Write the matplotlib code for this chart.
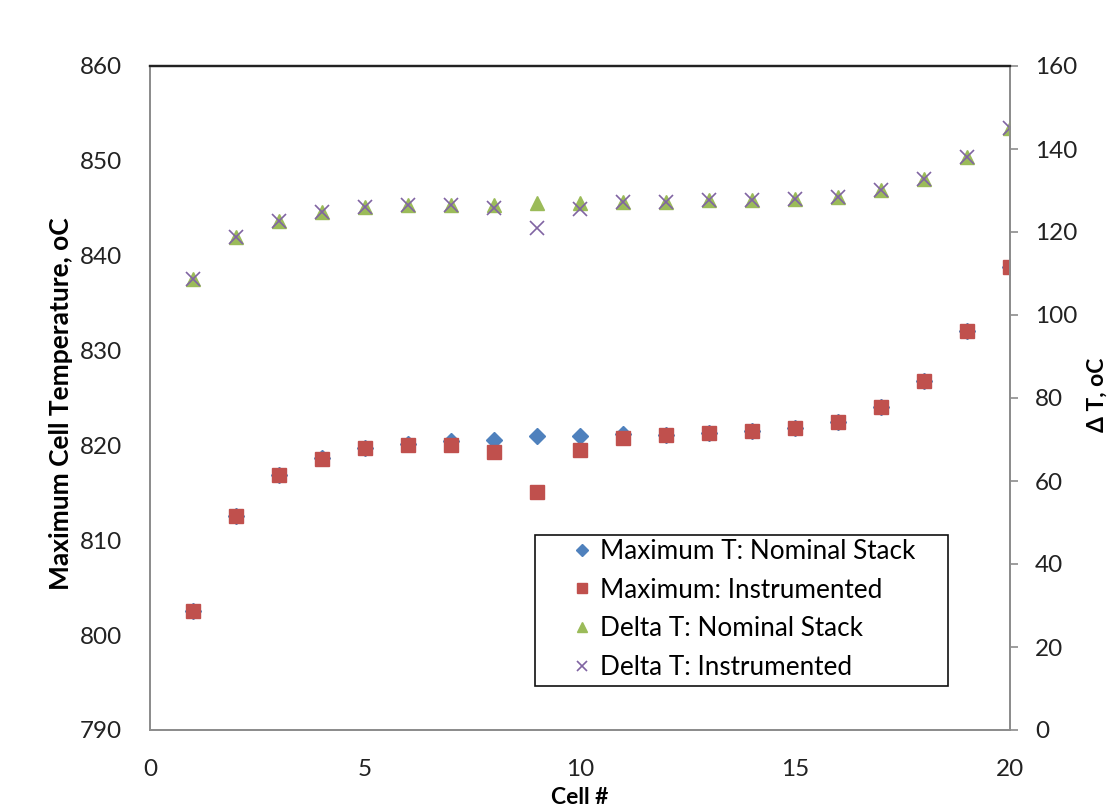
import matplotlib
matplotlib.use("Agg")
import matplotlib.pyplot as plt
from matplotlib.patches import Rectangle

cells = list(range(1, 21))
max_nominal = [802.5, 812.6, 816.9, 818.7, 819.7, 820.1, 820.5, 820.6, 821.0, 821.0,
               821.2, 821.1, 821.3, 821.5, 821.8, 822.5, 824.0, 826.8, 832.1, 838.8]
max_instr = [802.5, 812.6, 816.9, 818.6, 819.7, 820.0, 820.0, 819.3, 815.1, 819.5,
             820.8, 821.1, 821.3, 821.5, 821.8, 822.5, 824.0, 826.8, 832.1, 838.8]
delta_nominal = [108.6, 118.7, 122.7, 124.7, 126.1, 126.4, 126.5, 126.5, 127.1, 126.9,
                 127.3, 127.3, 127.6, 127.6, 128.0, 128.5, 130.1, 132.8, 138.1, 145.0]
delta_instr = [108.6, 118.7, 122.7, 124.7, 126.1, 126.4, 126.5, 125.7, 121.0, 125.5,
               127.3, 127.3, 127.6, 127.6, 128.0, 128.5, 130.1, 132.8, 138.1, 145.0]

FONT = ["Lato", "DejaVu Sans"]
plt.rcParams["font.family"] = FONT

W, H = 1114, 810
fig = plt.figure(figsize=(W/100, H/100), dpi=100)
L, R, T, B = 150, 1010, 66, 730
ax = fig.add_axes([L/W, 1-B/H, (R-L)/W, (B-T)/H])
ax2 = ax.twinx()

h1, = ax.plot(cells, max_nominal, linestyle="none", marker="D", markersize=8.5,
              color="#4F81BD", label="Maximum T: Nominal Stack")
h2, = ax.plot(cells, max_instr, linestyle="none", marker="s", markersize=10,
              color="#C0504D", label="Maximum: Instrumented")
h3, = ax2.plot(cells, delta_nominal, linestyle="none", marker="^", markersize=10,
               color="#9BBB59", label="Delta T: Nominal Stack")
h4, = ax2.plot(cells, delta_instr, linestyle="none", marker="x", markersize=10,
               markeredgewidth=1.2, color="#8064A2", label="Delta T: Instrumented")

ax.set_xlim(0, 20)
ax.set_ylim(790, 860)
ax2.set_ylim(0, 160)
ax.set_xticks([0, 5, 10, 15, 20])
ax.set_yticks(range(790, 861, 10))
ax2.set_yticks(range(0, 161, 20))

for a in (ax, ax2):
    for s in a.spines.values():
        s.set_color("#8C8C8C")
        s.set_linewidth(1.3)
    a.spines["top"].set_color("#222222")
    a.spines["top"].set_linewidth(1.6)

TS = 17.5
ax.tick_params(axis="both", labelsize=TS, colors="#8C8C8C", labelcolor="#222222")
ax.tick_params(axis="y", length=0, pad=20)
ax.tick_params(axis="x", length=0, pad=21)
ax2.tick_params(axis="y", labelsize=TS, colors="#8C8C8C", labelcolor="#222222",
                direction="out", length=6, width=1.2, pad=12)

ax.set_ylabel("Maximum Cell Temperature, oC", fontsize=19, fontweight="bold")
ax.yaxis.set_label_coords((73-L)/(R-L), (B-404)/(B-T))
ax2.set_ylabel("Δ T, oC", fontsize=16.5, fontweight="bold")
ax2.yaxis.set_label_coords((1087-L)/(R-L), (B-395)/(B-T))
ax.set_xlabel("Cell #", fontsize=16.5, fontweight="bold")
ax.xaxis.set_label_coords(0.5, (B-787)/(B-T))

# legend frame (pixel box from reference layout), legend content placed inside
lx0, ly0, lx1, ly1 = 535, 535, 948, 686
ax2.add_patch(Rectangle(((lx0-L)/(R-L), (B-ly1)/(B-T)), (lx1-lx0)/(R-L),
                        (ly1-ly0)/(B-T), transform=ax2.transAxes, facecolor="white",
                        edgecolor="#111111", linewidth=1.2, zorder=5))
leg = ax2.legend(handles=[h1, h2, h3, h4], loc="upper left",
                 bbox_to_anchor=((569-L)/(R-L), (B-539)/(B-T)), borderaxespad=0,
                 fontsize=18.8, frameon=False, markerscale=0.7,
                 handlelength=1.0, handletextpad=0.2, borderpad=0.0,
                 labelspacing=0.52)
leg.set_zorder(6)

fig.savefig("out.png", dpi=100, facecolor="white")
